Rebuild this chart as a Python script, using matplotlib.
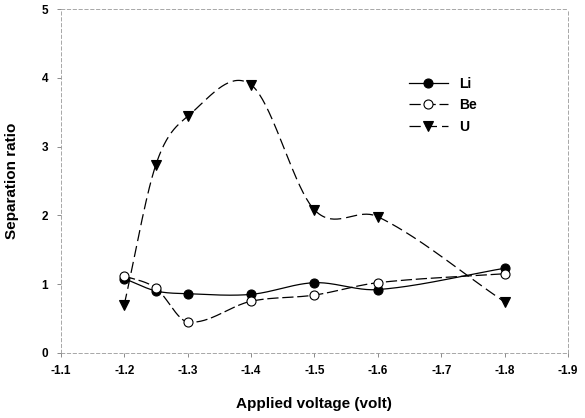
import numpy as np
import matplotlib
matplotlib.use("Agg")
import matplotlib.pyplot as plt

plt.rcParams["font.family"] = ["Liberation Sans", "DejaVu Sans"]

voltage = [-1.2, -1.25, -1.3, -1.4, -1.5, -1.6, -1.8]
li = [1.08, 0.90, 0.86, 0.85, 1.02, 0.92, 1.23]
be = [1.12, 0.94, 0.45, 0.75, 0.84, 1.02, 1.15]
u = [0.70, 2.74, 3.44, 3.90, 2.08, 1.98, 0.74]

x_ticks = [-1.1, -1.2, -1.3, -1.4, -1.5, -1.6, -1.7, -1.8, -1.9]
y_ticks = [0, 1, 2, 3, 4, 5]


def smooth(xs, ys, n=40):
    # cubic hermite through the points, tangents from the neighbours
    xs = np.asarray(xs, float)
    ys = np.asarray(ys, float)
    m = np.empty_like(ys)
    m[1:-1] = (ys[2:] - ys[:-2]) / (xs[2:] - xs[:-2])
    m[0] = (ys[1] - ys[0]) / (xs[1] - xs[0])
    m[-1] = (ys[-1] - ys[-2]) / (xs[-1] - xs[-2])
    px, py = [], []
    for i in range(len(xs) - 1):
        h = xs[i + 1] - xs[i]
        t = np.linspace(0, 1, n)
        h00 = 2 * t ** 3 - 3 * t ** 2 + 1
        h10 = t ** 3 - 2 * t ** 2 + t
        h01 = -2 * t ** 3 + 3 * t ** 2
        h11 = t ** 3 - t ** 2
        px.append(xs[i] + h * t)
        py.append(h00 * ys[i] + h10 * h * m[i] + h01 * ys[i + 1]
                  + h11 * h * m[i + 1])
    return np.concatenate(px), np.concatenate(py)


fig = plt.figure(figsize=(5.85, 4.18), dpi=100)
ax = fig.add_axes([0.104, 0.156, 0.867, 0.822])

series = [
    ("Li", li, "o", "black", "-"),
    ("Be", be, "o", "white", (0, (9, 3))),
    ("U", u, "v", "black", (0, (9, 4))),
]
for name, vals, mk, fc, ls in series:
    sx, sy = smooth(voltage, vals)
    ax.plot(sx, sy, color="black", lw=0.9, ls=ls)
    ax.plot(voltage, vals, ls="none", marker=mk, ms=6.5, mfc=fc,
            mec="black", mew=0.8)
    ax.plot([], [], color="black", lw=0.9, ls=ls, marker=mk, ms=6.5,
            mfc=fc, mec="black", mew=0.8, label=name)

ax.set_xlim(-1.1, -1.9)
ax.set_ylim(0, 5)
ax.set_xticks(x_ticks)
ax.set_xticklabels([f"{v:.1f}" for v in x_ticks])
ax.set_yticks(y_ticks)
ax.tick_params(labelsize=8.5, length=3, width=0.6, color="#777777", pad=6)
for lab in ax.get_xticklabels() + ax.get_yticklabels():
    lab.set_fontweight("bold")

for sp in ax.spines.values():
    sp.set_linestyle((0, (4, 3)))
    sp.set_linewidth(0.6)
    sp.set_color("#999999")

ax.set_xlabel("Applied voltage (volt)", fontsize=11, fontweight="bold",
              labelpad=14)
ax.set_ylabel("Separation ratio", fontsize=11, fontweight="bold",
              labelpad=16)

leg = ax.legend(loc="upper left", bbox_to_anchor=(0.675, 0.82), frameon=False,
                handlelength=2.8, labelspacing=0.55, borderaxespad=0,
                prop={"weight": "bold", "size": 10})

fig.savefig("out.png", dpi=100)
